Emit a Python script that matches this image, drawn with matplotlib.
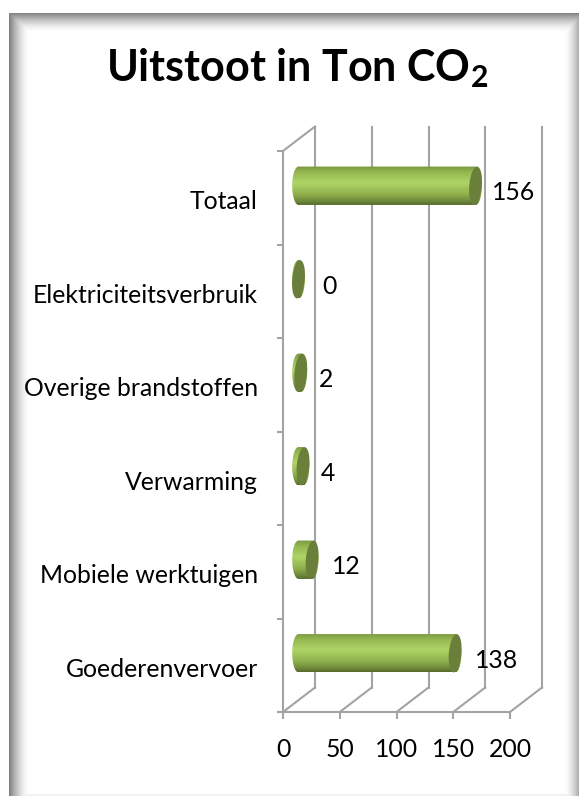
import numpy as np
import matplotlib
matplotlib.use("Agg")
import matplotlib.pyplot as plt
from matplotlib.colors import LinearSegmentedColormap
from matplotlib.patches import Ellipse, Polygon
from matplotlib.transforms import Affine2D, IdentityTransform

plt.rcParams['font.family'] = ['Lato', 'DejaVu Sans']
plt.rcParams['mathtext.fontset'] = 'custom'
plt.rcParams['mathtext.bf'] = 'Lato:bold'

# Data
categories = ["Goederenvervoer", "Mobiele werktuigen", "Verwarming",
              "Overige brandstoffen", "Elektriciteitsverbruik", "Totaal"]
values = [138, 12, 4, 2, 0, 156]
x_ticks = [0, 50, 100, 150, 200]

# hand placed label nudges in the original, in pixels from the bar value
label_dx = [57, 50, 40, 41, 46, 54]

W, H = 579, 796
GRID = "#a3a3a3"
CAP = "#6a7f3a"
FONT = 17.8

fig = plt.figure(figsize=(W / 100, H / 100), dpi=100)

# Picture frame with inner shadow
bg = fig.add_axes([0, 0, 1, 1], zorder=-1)
xx, yy = np.meshgrid(np.arange(W), np.arange(H))
left = np.clip(1 - (xx - 9) / 20, 0, 1) ** 1.6 * 0.50
top = np.clip(1 - (yy - 13) / 19, 0, 1) ** 1.6 * 0.48
right = np.clip(1 - (578 - xx) / 14, 0, 1) ** 1.6 * 0.32
bottom = np.clip(1 - (795 - yy) / 3, 0, 1) * 0.06
shade = 1 - np.maximum.reduce([left, top, right, bottom])
shade[:, :9] = 1
shade[:13, :] = 1
bg.imshow(shade, cmap="gray", vmin=0, vmax=1, aspect="auto", interpolation="nearest")
bg.axis("off")

# Front wall of the 3D plot
ax = fig.add_axes([283 / W, 1 - 712 / H, (510 - 283) / W, (712 - 151) / H])
ax.patch.set_alpha(0)
for s in ["top", "right"]:
    ax.spines[s].set_visible(False)
for s in ["left", "bottom"]:
    ax.spines[s].set_color(GRID)
    ax.spines[s].set_linewidth(1.5)

pos = np.arange(len(categories)) + 0.5
ax.set_xlim(0, 200)
ax.set_ylim(0, len(categories))
ax.set_xticks(x_ticks)
ax.set_yticks(np.arange(len(categories) + 1))
ax.set_yticklabels([])
ax.set_yticks(pos, minor=True)
ax.set_yticklabels(categories, minor=True)
ax.tick_params(axis="y", which="major", length=4.5, width=1.5, color=GRID)
ax.tick_params(axis="y", which="minor", length=0, pad=18, labelsize=FONT, labelcolor="black")
ax.tick_params(axis="x", length=5, width=1.5, color=GRID, pad=14, labelsize=FONT, labelcolor="black")
for lab in ax.get_yticklabels(minor=True):
    lab.set_transform(lab.get_transform() + Affine2D().translate(0, -2))

# Back wall and floor
back = ax.transData + Affine2D().translate(32, 24.5)
for t in x_ticks:
    ax.plot([t, t], [0, len(categories)], color=GRID, lw=1.5, transform=back,
            clip_on=False, zorder=1)
    p = ax.transData.transform((t, 0))
    ax.plot([p[0], p[0] + 32], [p[1], p[1] + 24.5], color=GRID, lw=1.5,
            transform=IdentityTransform(), clip_on=False, zorder=1)
p = ax.transData.transform((0, len(categories)))
ax.plot([p[0], p[0] + 32], [p[1], p[1] + 24.5], color=GRID, lw=1.5,
        transform=IdentityTransform(), clip_on=False, zorder=1)

# Cylinders
cyl = LinearSegmentedColormap.from_list("cyl", [
    (0.0, "#55692c"), (0.10, "#6f8a3a"), (0.27, "#8fb04d"), (0.57, "#aed566"),
    (0.85, "#94b650"), (1.0, "#7a9640")])
grad = np.linspace(0, 1, 128).reshape(-1, 1)
rx, ry = 6.3, 19.2
shift = ax.transData + Affine2D().translate(15.5, 12)

for y, v, dx in zip(pos, values, label_dx):
    x0, yc = shift.transform((0, y))
    x1, _ = shift.transform((v, y))
    t = np.linspace(-np.pi / 2, np.pi / 2, 40)
    body = np.vstack([
        np.c_[x1 + rx * np.cos(t), yc + ry * np.sin(t)],
        np.c_[x0 - rx * np.cos(t[::-1]), yc + ry * np.sin(t[::-1])],
    ])
    clip = Polygon(body, closed=True, transform=IdentityTransform())
    im = ax.imshow(grad, cmap=cyl, aspect="auto", origin="lower", zorder=3,
                   extent=(x0 - rx - 1, x1 + rx + 1, yc - ry, yc + ry),
                   transform=IdentityTransform())
    im.set_clip_path(clip)
    ax.add_patch(Ellipse((x1, yc), 2 * rx, 2 * ry, angle=-5, facecolor=CAP, edgecolor="none",
                         transform=IdentityTransform(), clip_on=False, zorder=4))
    fx, fy = ax.transData.transform((v, y))
    ax.text(fx + dx, fy + 5, str(v), transform=IdentityTransform(), ha="center",
            va="center", fontsize=FONT, color="black", zorder=5, clip_on=False)

ax.set_xlim(0, 200)
ax.set_ylim(0, len(categories))

fig.text(297 / W, 1 - 68 / H, r"Uitstoot in Ton CO$_{\mathbf{2}}$", ha="center", va="center",
         fontsize=31, fontweight="bold", color="black")

fig.savefig("out.png", dpi=100)
